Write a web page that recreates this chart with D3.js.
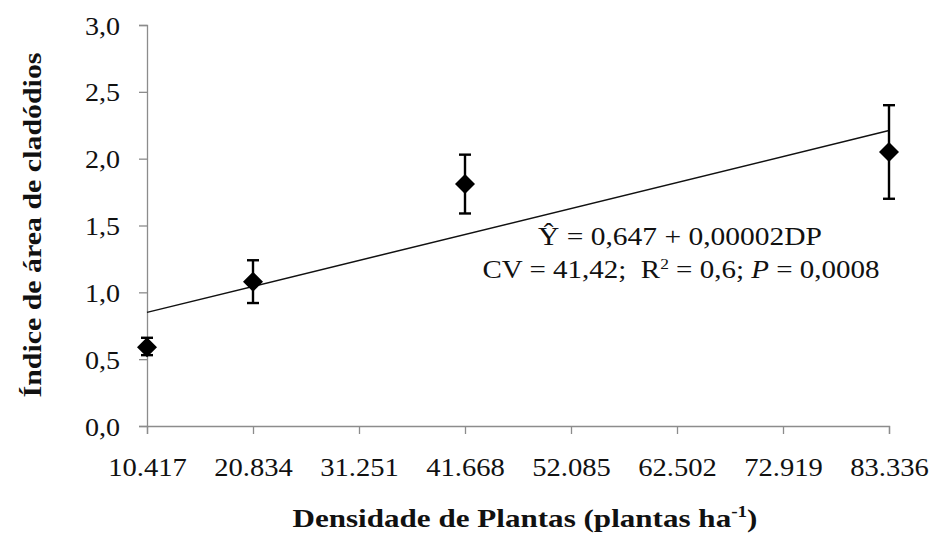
<!DOCTYPE html>
<html><head><meta charset="utf-8">
<script src="https://cdn.jsdelivr.net/npm/d3@7"></script>
<style>body{margin:0;background:#fff}svg{display:block}</style>
</head><body><svg id="c" width="935" height="535"></svg>
<script>
const xTicks = [10.417, 20.834, 31.251, 41.668, 52.085, 62.502, 72.919, 83.336];
const xTickLabels = ["10.417","20.834","31.251","41.668","52.085","62.502","72.919","83.336"];
const yTicks = [0, 0.5, 1.0, 1.5, 2.0, 2.5, 3.0];
const yTickLabels = ["0,0","0,5","1,0","1,5","2,0","2,5","3,0"];
const pointX = [10.417, 20.834, 41.668, 83.336];
const pointY = [0.59, 1.08, 1.81, 2.05];
const errLow = [0.53, 0.92, 1.59, 1.70];
const errHigh = [0.66, 1.24, 2.03, 2.40];
const lineX = [10.417, 83.336];
const lineY = [0.85, 2.21];

const svg = d3.select("#c");
const x = d3.scaleLinear().domain([10.417, 83.336]).range([147, 889]);
const y = d3.scaleLinear().domain([0, 3]).range([426, 25]);
const serif = '"Liberation Serif"';

function stretch(sel, factor) {
  sel.each(function() {
    const w = this.getComputedTextLength();
    d3.select(this).attr("textLength", w * factor).attr("lengthAdjust", "spacingAndGlyphs");
  });
}

const axisColor = "#8c8c8c";
const gx = svg.append("g").attr("transform", "translate(0,426)")
  .call(d3.axisBottom(x).tickValues(xTicks).tickFormat((d,i)=>xTickLabels[i]).tickSize(8).tickPadding(24));
const gy = svg.append("g").attr("transform", "translate(147,0)")
  .call(d3.axisLeft(y).tickValues(yTicks).tickFormat((d,i)=>yTickLabels[i]).tickSize(8).tickPadding(19));
[gx, gy].forEach(g => {
  g.attr("font-family", serif).attr("font-size", 26);
  g.select(".domain").attr("stroke", axisColor).attr("stroke-width", 1.3);
  g.selectAll(".tick line").attr("stroke", axisColor).attr("stroke-width", 1.3);
  g.selectAll(".tick text").attr("fill", "#111");
});
gy.selectAll(".tick text").attr("dy", "0.35em");
stretch(gx.selectAll(".tick text"), 1.1);
stretch(gy.selectAll(".tick text"), 1.08);

// regression line
svg.append("path")
  .datum(lineX.map((d,i)=>[d, lineY[i]]))
  .attr("d", d3.line().x(d=>x(d[0])).y(d=>y(d[1])))
  .attr("stroke", "#111").attr("stroke-width", 1.5).attr("fill", "none");

// error bars
const pts = pointX.map((d,i)=>({x:d, y:pointY[i], lo:errLow[i], hi:errHigh[i]}));
const eb = svg.append("g").attr("stroke", "#000").attr("stroke-width", 2.4);
pts.forEach(p => {
  eb.append("line").attr("x1", x(p.x)).attr("x2", x(p.x)).attr("y1", y(p.lo)).attr("y2", y(p.hi));
  eb.append("line").attr("x1", x(p.x)-6).attr("x2", x(p.x)+6).attr("y1", y(p.lo)).attr("y2", y(p.lo));
  eb.append("line").attr("x1", x(p.x)-6).attr("x2", x(p.x)+6).attr("y1", y(p.hi)).attr("y2", y(p.hi));
});
svg.append("g").selectAll("path").data(pts).join("path")
  .attr("transform", p => `translate(${x(p.x)},${y(p.y)})`)
  .attr("d", "M0,-10L10,0L0,10L-10,0Z").attr("fill", "#000");

// equation
const eq = svg.append("g").attr("font-size", 25).attr("fill", "#111").attr("font-family", serif);
const t1 = eq.append("text").attr("x", 680).attr("y", 245).attr("text-anchor", "middle").text("Ŷ = 0,647 + 0,00002DP");
const t2 = eq.append("text").attr("x", 681).attr("y", 278).attr("text-anchor", "middle");
t2.append("tspan").text("CV = 41,42;\u00A0 R");
t2.append("tspan").attr("dy", -9).attr("font-size", 15).text("2");
t2.append("tspan").attr("dy", 9).text(" = 0,6; ");
t2.append("tspan").attr("font-style", "italic").text("P");
t2.append("tspan").text(" = 0,0008");
t1.attr("textLength", 284).attr("lengthAdjust", "spacingAndGlyphs");
t2.attr("textLength", 397).attr("lengthAdjust", "spacingAndGlyphs");

// axis titles
const xt = svg.append("text").attr("x", 525).attr("y", 527).attr("text-anchor", "middle")
  .attr("font-size", 26).attr("font-weight", "bold").attr("fill", "#111").attr("font-family", serif);
xt.append("tspan").text("Densidade de Plantas (plantas ha");
xt.append("tspan").attr("dy", -10).attr("font-size", 16).text("-1");
xt.append("tspan").attr("dy", 10).text(")");
xt.attr("textLength", 465).attr("lengthAdjust", "spacingAndGlyphs");
svg.append("text").attr("transform", "translate(41,225) rotate(-90)").attr("text-anchor", "middle")
  .attr("font-size", 26).attr("font-weight", "bold").attr("fill", "#111").attr("font-family", serif)
  .attr("textLength", 345).attr("lengthAdjust", "spacingAndGlyphs")
  .text("Índice de área de cladódios");
</script></body></html>
